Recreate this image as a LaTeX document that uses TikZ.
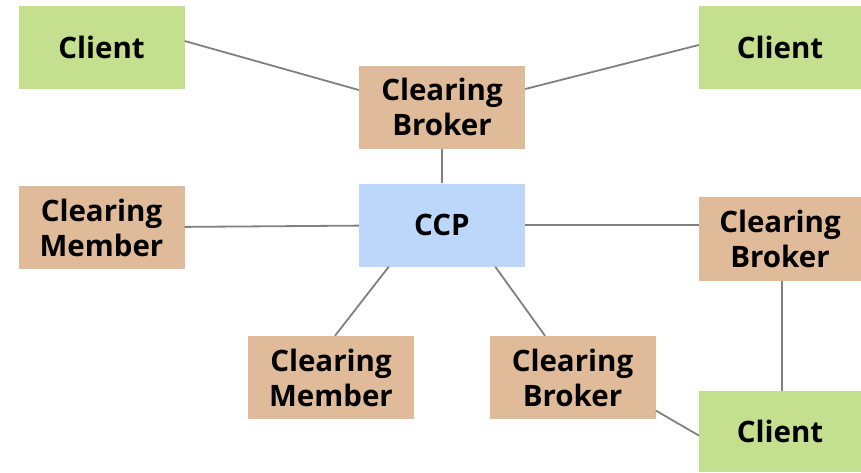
\documentclass[tikz,border=0pt]{standalone}
\usepackage{fontspec}
\setmainfont{Open Sans}
\usetikzlibrary{calc}
\definecolor{clientgreen}{HTML}{C4DF8E}
\definecolor{brokertan}{HTML}{E0BB9A}
\definecolor{ccpblue}{HTML}{BDD7FA}
\definecolor{linkgrey}{HTML}{808080}
\tikzset{
  box/.style={minimum width=166pt, minimum height=83pt, inner sep=0pt,
    align=center, font=\fontsize{29.5}{35}\selectfont\bfseries},
  client/.style={box, fill=clientgreen},
  broker/.style={box, fill=brokertan},
  ccpbox/.style={box, fill=ccpblue},
  link/.style={draw=linkgrey, line width=1.8pt},
}
\begin{document}
\begin{tikzpicture}[x=1pt, y=-1pt]
    \useasboundingbox (0,0) rectangle (861,472);
    % boxes
    \node [client] (cltl) at (101.5, 47) {Client};
    \node [client, minimum width=162pt] (cltr) at (780, 47) {Client};
    \node [broker] (cbtop) at (442, 107) {Clearing\\Broker};
    \node [ccpbox] (ccp) at (442, 225) {CCP};
    \node [broker] (cmleft) at (101.5, 227.5) {Clearing\\Member};
    \node [broker, minimum width=162pt, minimum height=84pt] (cbright) at (780, 239) {Clearing\\Broker};
    \node [broker] (cmbot) at (331, 377.5) {Clearing\\Member};
    \node [broker] (cbbot) at (572.5, 377.5) {Clearing\\Broker};
    \node [client, minimum width=162pt, minimum height=81pt] (clbr) at (780, 431.5) {Client};

    % links
    \draw [link] ([yshift=6pt]cltl.east) -- ([yshift=17pt]cbtop.west);
    \draw [link] ([yshift=2pt]cltr.west) -- ([yshift=18pt]cbtop.east);
    \draw [link] (cbtop) -- (ccp);
    \draw [link] (cmleft) -- (ccp);
    \draw [link] (ccp) -- (ccp -| cbright.west);
    \draw [link] ($(ccp.south west)!0.18!(ccp.south east)$) -- ([xshift=4pt]cmbot.north);
    \draw [link] ($(ccp.south west)!0.82!(ccp.south east)$) -- ($(cbbot.north west)!0.335!(cbbot.north east)$);
    \draw [link] ([xshift=2pt]cbright.south) -- ([xshift=2pt]clbr.north);
    \draw [link] ([yshift=-33pt]cbbot.east) -- ([yshift=-4pt]clbr.west);
\end{tikzpicture}
\end{document}
